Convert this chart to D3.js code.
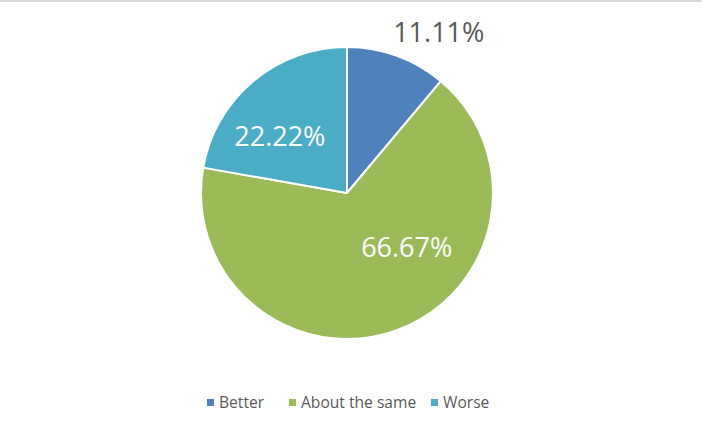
<!DOCTYPE html>
<html>
<head>
<meta charset="utf-8">
<script src="https://cdn.jsdelivr.net/npm/d3@7"></script>
<style>
  body { margin: 0; background: #fff; }
  svg { display: block; font-family: "Open Sans", "Noto Sans", sans-serif; }
</style>
</head>
<body>
<div id="chart"></div>
<script>
// chart data
var categories = ["Better", "About the same", "Worse"];
var shares = [11.11, 66.67, 22.22];
var colors = ["#4F81BD", "#9BBB59", "#4BACC6"];

var width = 703, height = 427;
var cx = 347, cy = 193, radius = 146;

var svg = d3.select("#chart").append("svg")
    .attr("width", width)
    .attr("height", height);

// thin frame line at the top
svg.append("rect")
    .attr("x", 0).attr("y", 0)
    .attr("width", width - 1).attr("height", 2)
    .attr("fill", "#d9d9d9");

var pie = d3.pie().sort(null).value(function(d) { return d; });
var arcs = pie(shares);
var arc = d3.arc().innerRadius(0).outerRadius(radius);

var g = svg.append("g")
    .attr("transform", "translate(" + cx + "," + cy + ")");

g.selectAll("path.slice")
    .data(arcs)
    .enter().append("path")
    .attr("class", "slice")
    .attr("d", arc)
    .attr("fill", function(d, i) { return colors[i]; })
    .attr("stroke", "#fff")
    .attr("stroke-width", 2)
    .attr("stroke-linejoin", "round");

// label placement: radius and angle shift (radians) like Excel's best fit
var labelPlace = [
    {r: 185, shift: 0.17, fill: "#595959"},
    {r: 81, shift: -0.48, fill: "#fff"},
    {r: 88, shift: -0.17, fill: "#fff"}
];

function labelPos(d, i) {
    var a = (d.startAngle + d.endAngle) / 2 + labelPlace[i].shift;
    return [Math.sin(a) * labelPlace[i].r, -Math.cos(a) * labelPlace[i].r];
}

g.selectAll("text.pct")
    .data(arcs)
    .enter().append("text")
    .attr("class", "pct")
    .attr("text-anchor", "middle")
    .attr("font-size", 27)
    .attr("fill", function(d, i) { return labelPlace[i].fill; })
    .attr("x", function(d, i) { return labelPos(d, i)[0]; })
    .attr("y", function(d, i) { return labelPos(d, i)[1]; })
    .attr("dy", "0.36em")
    .text(function(d) { return d.data.toFixed(2) + "%"; });

// legend
var legendOffsets = [207, 289, 431];
var legend = svg.append("g").attr("class", "legend");
var item = legend.selectAll("g")
    .data(categories)
    .enter().append("g")
    .attr("transform", function(d, i) { return "translate(" + legendOffsets[i] + ",399)"; });
item.append("rect")
    .attr("width", 7).attr("height", 7)
    .attr("fill", function(d, i) { return colors[i]; });
item.append("text")
    .attr("x", 12).attr("y", 4)
    .attr("dy", "0.35em")
    .attr("font-size", 15.6)
    .attr("fill", "#595959")
    .text(function(d) { return d; });
</script>
</body>
</html>
